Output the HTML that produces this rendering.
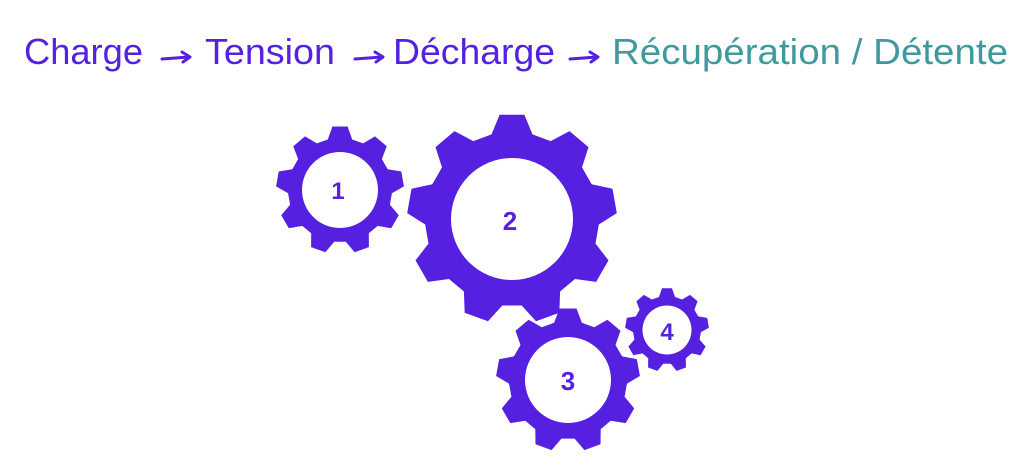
<!DOCTYPE html>
<html><head><meta charset="utf-8"><style>
html,body{margin:0;padding:0;background:#fff;}
svg{display:block}
text{font-family:"Liberation Sans",sans-serif;font-size:36px;}
</style></head><body>
<svg id="s" width="1024" height="474" viewBox="0 0 1024 474" xmlns="http://www.w3.org/2000/svg">
<rect width="1024" height="474" fill="#fff"/>
<text x="24" y="64" fill="#5520e0" textLength="119" lengthAdjust="spacingAndGlyphs">Charge</text>
<text x="205" y="64" fill="#5520e0" textLength="130" lengthAdjust="spacingAndGlyphs">Tension</text>
<text x="393" y="64" fill="#5520e0" textLength="162" lengthAdjust="spacingAndGlyphs">Décharge</text>
<text x="612" y="64" fill="#3f9a9e" textLength="396" lengthAdjust="spacingAndGlyphs">Récupération / Détente</text>
<g stroke="#5520e0" stroke-width="3" fill="none" stroke-linecap="round" stroke-linejoin="round">
<path d="M162 59 L189 57 M182 52 L190 57 L183 62"/>
<path d="M355 59 L382 57 M375 52 L383 57 L376 62"/>
<path d="M570 59 L597 57 M590 52 L598 57 L591 62"/>
</g>
<g id="g" fill="#5520e0" fill-rule="evenodd"></g>
<g fill="#5520e0" font-weight="bold" text-anchor="middle">
<text x="338" y="199" style="font-size:24px">1</text>
<text x="510" y="230" style="font-size:26px">2</text>
<text x="568" y="390" style="font-size:26px">3</text>
<text x="667" y="340" style="font-size:24px">4</text>
</g>
</svg>
<script>
function gear(cx,cy,ro,rr,rh,n){
  var d="",p=2*Math.PI/n;
  for(var i=0;i<n;i++){
    var a=-Math.PI/2+i*p;
    var pts=[[rr,a-p*0.34],[ro,a-p*0.17],[ro,a+p*0.17],[rr,a+p*0.34]];
    pts.forEach(function(q,j){
      var x=cx+q[0]*Math.cos(q[1]),y=cy+q[0]*Math.sin(q[1]);
      d+=(i==0&&j==0?"M":"L")+x.toFixed(1)+" "+y.toFixed(1)+" ";
    });
  }
  d+="Z M"+(cx+rh)+" "+cy+" A"+rh+" "+rh+" 0 1 0 "+(cx-rh)+" "+cy+" A"+rh+" "+rh+" 0 1 0 "+(cx+rh)+" "+cy+" Z";
  var e=document.createElementNS("http://www.w3.org/2000/svg","path");
  e.setAttribute("d",d);document.getElementById("g").appendChild(e);
}
gear(340,190,64,52,38,9);
gear(512,219,105,87,61,9);
gear(568,380,72,59,43,9);
gear(667,330,42,34,24.5,9);
</script>
</body></html>
